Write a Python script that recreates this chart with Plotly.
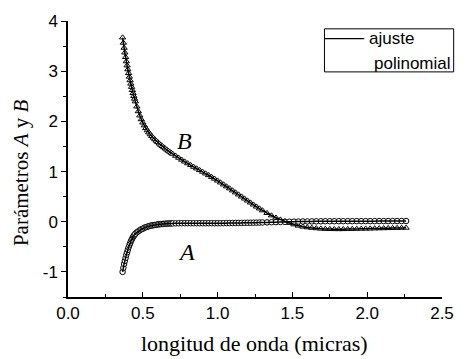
import plotly.graph_objects as go

# wavelength (micras)
x_vals = [0.365, 0.370, 0.375, 0.380, 0.385, 0.390, 0.395, 0.400, 0.405, 0.410,
          0.415, 0.420, 0.425, 0.430, 0.435, 0.440, 0.445, 0.450,
          0.46, 0.47, 0.48, 0.49, 0.50, 0.51, 0.52, 0.53, 0.54, 0.55, 0.56, 0.57,
          0.58, 0.59, 0.60, 0.61, 0.62, 0.63, 0.64, 0.65, 0.66, 0.67, 0.68, 0.69, 0.70,
          0.72, 0.74, 0.76, 0.78, 0.80, 0.82, 0.84, 0.86, 0.88, 0.90, 0.92, 0.94,
          0.96, 0.98, 1.00, 1.02, 1.04, 1.06, 1.08, 1.10, 1.12, 1.14, 1.16, 1.18,
          1.20, 1.22, 1.24, 1.26, 1.28, 1.30,
          1.33, 1.36, 1.39, 1.42, 1.45, 1.48, 1.51, 1.54, 1.57, 1.60, 1.63, 1.66,
          1.69, 1.72, 1.75, 1.78, 1.81, 1.84, 1.87, 1.90, 1.93, 1.96, 1.99, 2.02,
          2.05, 2.08, 2.11, 2.14, 2.17, 2.20, 2.23, 2.26]

# parameter B (triangles)
b_vals = [3.67, 3.565, 3.465, 3.37, 3.28, 3.195, 3.113, 3.035, 2.96, 2.888,
          2.818, 2.75, 2.685, 2.622, 2.562, 2.505, 2.45, 2.397,
          2.295, 2.20, 2.115, 2.04, 1.975, 1.918, 1.866, 1.82, 1.778, 1.74, 1.705, 1.672,
          1.641, 1.612, 1.584, 1.557, 1.531, 1.506, 1.482, 1.459, 1.436, 1.414, 1.393, 1.372, 1.352,
          1.312, 1.273, 1.235, 1.198, 1.162, 1.127, 1.093, 1.06, 1.027, 0.994, 0.96, 0.926,
          0.891, 0.855, 0.818, 0.78, 0.741, 0.702, 0.662, 0.622, 0.582, 0.541, 0.50, 0.46,
          0.42, 0.38, 0.34, 0.30, 0.262, 0.225,
          0.172, 0.124, 0.08, 0.042, 0.008, -0.025, -0.055, -0.08, -0.10, -0.113, -0.123, -0.132,
          -0.139, -0.144, -0.147, -0.149, -0.15, -0.149, -0.147, -0.145, -0.143, -0.141, -0.139, -0.137,
          -0.135, -0.133, -0.131, -0.129, -0.127, -0.125, -0.123, -0.121]

# parameter A (circles)
a_vals = [-1.00, -0.92, -0.84, -0.78, -0.72, -0.66, -0.61, -0.56, -0.51, -0.47,
          -0.43, -0.39, -0.36, -0.33, -0.30, -0.28, -0.26, -0.24,
          -0.21, -0.19, -0.17, -0.15, -0.14, -0.12, -0.11, -0.10, -0.09, -0.08, -0.075, -0.07,
          -0.065, -0.06, -0.055, -0.05, -0.048, -0.045, -0.043, -0.04, -0.038, -0.036, -0.035, -0.034, -0.033,
          -0.032, -0.031, -0.030, -0.030, -0.030, -0.030, -0.030, -0.030, -0.030, -0.030, -0.030, -0.030,
          -0.030, -0.030, -0.030, -0.030, -0.029, -0.028, -0.027, -0.026, -0.025, -0.024, -0.023, -0.022,
          -0.021, -0.020, -0.019, -0.018, -0.016, -0.015,
          -0.013, -0.010, -0.008, -0.005, -0.003, 0.000, 0.002, 0.004, 0.005, 0.006, 0.007, 0.008,
          0.009, 0.010, 0.010, 0.010, 0.011, 0.011, 0.011, 0.011, 0.012, 0.012, 0.012, 0.012,
          0.012, 0.013, 0.013, 0.013, 0.013, 0.013, 0.014, 0.014]

x_ticks = [0.0, 0.5, 1.0, 1.5, 2.0, 2.5]
x_tick_text = ["0.0", "0.5", "1.0", "1.5", "2.0", "2.5"]
y_ticks = [-1, 0, 1, 2, 3, 4]
y_tick_text = ["-1", "0", "1", "2", "3", "4"]

fig = go.Figure()

fig.add_trace(go.Scatter(x=x_vals, y=b_vals, mode="markers", name="B",
                         marker=dict(symbol="triangle-up", size=5.5, color="white",
                                     line=dict(color="black", width=1)),
                         showlegend=False))
fig.add_trace(go.Scatter(x=x_vals, y=a_vals, mode="markers", name="A",
                         marker=dict(symbol="circle", size=5.5, color="white",
                                     line=dict(color="black", width=1)),
                         showlegend=False))
fig.add_trace(go.Scatter(x=x_vals, y=b_vals, mode="lines", name="ajuste polinomial",
                         line=dict(color="black", width=1.5, shape="spline"), showlegend=False))
fig.add_trace(go.Scatter(x=x_vals, y=a_vals, mode="lines", name="ajuste polinomial",
                         line=dict(color="black", width=1.5, shape="spline"), showlegend=False))

L, R, T, B = 68, 13, 15, 62
W, H = 466, 359
pw, ph = W - L - R, H - T - B

def px(xp):
    return (xp - L) / pw

def py(yp):
    return (H - B - yp) / ph

sans = "Liberation Sans, Arial, sans-serif"
serif = "Liberation Serif, Times New Roman, serif"

fig.update_layout(
    width=W, height=H,
    margin=dict(l=L, r=R, t=T, b=B),
    paper_bgcolor="white", plot_bgcolor="white",
    showlegend=False,
    xaxis=dict(range=[0, 2.5], tickvals=x_ticks, ticktext=x_tick_text,
               ticks="inside", ticklen=5, tickwidth=1.2, tickcolor="black",
               minor=dict(dtick=0.25, ticks="inside", ticklen=3, tickcolor="black", tickwidth=1.2),
               showline=True, linecolor="black", linewidth=1.5,
               showgrid=False, zeroline=False,
               tickfont=dict(family=sans, size=17, color="black")),
    yaxis=dict(range=[-1.5, 4], tickvals=y_ticks, ticktext=y_tick_text,
               ticks="outside", ticklen=5, tickwidth=1.2, tickcolor="black",
               minor=dict(dtick=0.5, ticks="outside", ticklen=3, tickcolor="black", tickwidth=1.2),
               showline=True, linecolor="black", linewidth=1.5,
               showgrid=False, zeroline=False,
               tickfont=dict(family=sans, size=17, color="black")),
)

annotations = [
    dict(text="longitud de onda (micras)", xref="paper", yref="paper",
         x=px(260), y=py(345), showarrow=False, xanchor="center", yanchor="middle",
         font=dict(family=serif, size=22, color="black")),
    dict(text="Parámetros <i>A</i> y <i>B</i>", xref="paper", yref="paper",
         x=px(19), y=py(170), showarrow=False, xanchor="center", yanchor="middle",
         textangle=-90, font=dict(family=serif, size=21, color="black")),
    dict(text="<i>B</i>", xref="x", yref="y", x=0.78, y=1.61, showarrow=False,
         font=dict(family=serif, size=24, color="black")),
    dict(text="<i>A</i>", xref="x", yref="y", x=0.79, y=-0.61, showarrow=False,
         font=dict(family=serif, size=24, color="black")),
    dict(text="ajuste", xref="paper", yref="paper", x=px(376), y=py(33),
         showarrow=False, xanchor="left", yanchor="middle",
         font=dict(family=sans, size=17, color="black")),
    dict(text="polinomial", xref="paper", yref="paper", x=px(381), y=py(58),
         showarrow=False, xanchor="left", yanchor="middle",
         font=dict(family=sans, size=17, color="black")),
]
fig.update_layout(annotations=annotations)

fig.add_shape(type="rect", xref="paper", yref="paper",
              x0=px(332), x1=px(465), y0=py(67), y1=py(23),
              line=dict(color="black", width=1), fillcolor="rgba(0,0,0,0)")
fig.add_shape(type="line", xref="paper", yref="paper",
              x0=px(332), x1=px(373), y0=py(33), y1=py(33),
              line=dict(color="black", width=1.2))

fig.write_html("out.html")
